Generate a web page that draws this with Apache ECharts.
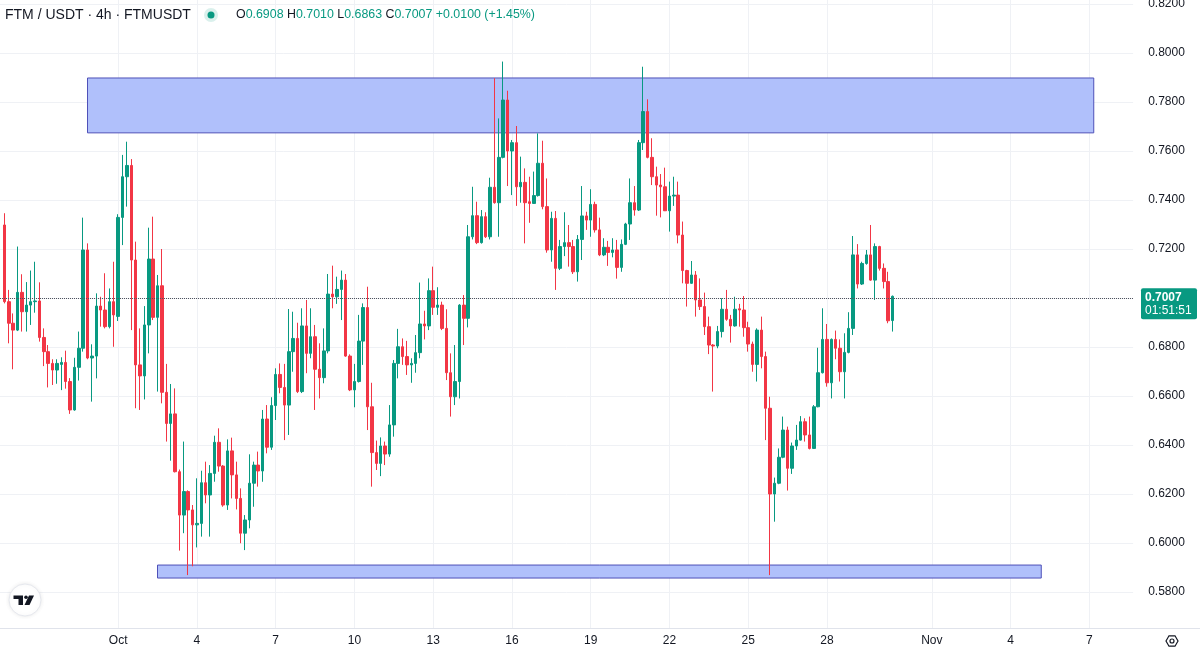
<!DOCTYPE html>
<html>
<head>
<meta charset="utf-8">
<script src="https://cdn.jsdelivr.net/npm/echarts@6/dist/echarts.min.js"></script>
<style>
html,body{margin:0;padding:0;background:#ffffff;}
#chart{width:1200px;height:647px;}
</style>
</head>
<body>
<div id="chart"></div>
<script>
// ---------------- data ----------------
const symbolTitle = 'FTM / USDT · 4h · FTMUSDT';
const firstCandleTime = Date.UTC(2024, 8, 26, 16); // first 4h candle
const barHours = 4;
const leadBlankBars = 1;
const totalBars = 260;
const countdownText = '01:51:51';

// [open, high, low, close]
const ohlc = [
[0.7298,0.7346,0.6978,0.6985],[0.6985,0.7033,0.6815,0.6897],[0.6897,0.6937,0.6709,0.6869],[0.6869,0.7210,0.6865,0.7023],
[0.7023,0.7097,0.6863,0.6944],[0.6944,0.7065,0.6863,0.6971],[0.6971,0.7112,0.6890,0.6985],[0.6985,0.7148,0.6940,0.6988],
[0.6988,0.7064,0.6822,0.6839],[0.6839,0.6876,0.6722,0.6781],[0.6781,0.6808,0.6635,0.6733],[0.6733,0.6750,0.6645,0.6706],
[0.6706,0.6750,0.6650,0.6733],[0.6729,0.6758,0.6624,0.6737],[0.6737,0.6785,0.6630,0.6659],[0.6659,0.6673,0.6527,0.6543],
[0.6543,0.6756,0.6540,0.6717],[0.6717,0.6863,0.6663,0.6795],[0.6795,0.7328,0.6781,0.7196],[0.7196,0.7223,0.6750,0.6755],
[0.6755,0.6811,0.6577,0.6763],[0.6763,0.7019,0.6672,0.6967],[0.6967,0.7005,0.6883,0.6951],[0.6951,0.7101,0.6876,0.6883],
[0.6883,0.7039,0.6876,0.6985],[0.6985,0.7148,0.6801,0.6931],[0.6925,0.7342,0.6906,0.7329],[0.7329,0.7584,0.7216,0.7495],
[0.7495,0.7638,0.7373,0.7541],[0.7541,0.7567,0.6869,0.7155],[0.7155,0.7230,0.6550,0.6727],[0.6727,0.6876,0.6543,0.6682],
[0.6682,0.6967,0.6586,0.6890],[0.6890,0.7287,0.6774,0.7159],[0.7159,0.7332,0.6910,0.6921],[0.6921,0.7094,0.6618,0.7050],
[0.7050,0.7200,0.6570,0.6615],[0.6615,0.6731,0.6414,0.6488],[0.6488,0.6649,0.6336,0.6527],[0.6527,0.6631,0.6288,0.6291],
[0.6291,0.6300,0.5969,0.6114],[0.6114,0.6414,0.6040,0.6210],[0.6210,0.6215,0.5869,0.6135],[0.6135,0.6155,0.5905,0.6074],
[0.6074,0.6264,0.5982,0.6080],[0.6080,0.6295,0.6026,0.6246],[0.6246,0.6332,0.6162,0.6196],[0.6196,0.6318,0.6026,0.6284],
[0.6284,0.6438,0.6250,0.6411],[0.6411,0.6468,0.6291,0.6314],[0.6314,0.6318,0.6148,0.6155],[0.6155,0.6423,0.6135,0.6376],
[0.6376,0.6430,0.6182,0.6278],[0.6278,0.6332,0.6137,0.6182],[0.6182,0.6223,0.5999,0.6040],[0.6040,0.6114,0.5971,0.6094],
[0.6094,0.6362,0.6060,0.6244],[0.6244,0.6332,0.6148,0.6318],[0.6318,0.6373,0.6230,0.6294],[0.6294,0.6543,0.6250,0.6506],
[0.6506,0.6563,0.6366,0.6391],[0.6391,0.6595,0.6380,0.6561],[0.6561,0.6713,0.6502,0.6688],[0.6688,0.6733,0.6611,0.6635],
[0.6635,0.6731,0.6420,0.6563],[0.6563,0.6955,0.6441,0.6781],[0.6781,0.6944,0.6699,0.6835],[0.6835,0.6899,0.6612,0.6618],
[0.6618,0.6958,0.6612,0.6886],[0.6886,0.6992,0.6693,0.6774],[0.6774,0.6958,0.6754,0.6842],[0.6842,0.6890,0.6543,0.6709],
[0.6709,0.6815,0.6590,0.6675],[0.6675,0.6876,0.6652,0.6784],[0.6784,0.7098,0.6774,0.7016],[0.7016,0.7132,0.6958,0.7005],
[0.7005,0.7087,0.6976,0.7035],[0.7035,0.7112,0.6910,0.7073],[0.7073,0.7098,0.6760,0.6763],[0.6763,0.6770,0.6620,0.6625],
[0.6625,0.6731,0.6554,0.6659],[0.6659,0.6931,0.6655,0.6824],[0.6824,0.6978,0.6727,0.6961],[0.6961,0.7046,0.6461,0.6556],
[0.6556,0.6654,0.6230,0.6369],[0.6369,0.6418,0.6298,0.6325],[0.6325,0.6431,0.6273,0.6396],[0.6396,0.6414,0.6318,0.6363],
[0.6363,0.6563,0.6352,0.6482],[0.6482,0.6747,0.6434,0.6733],[0.6733,0.6874,0.6672,0.6801],[0.6801,0.6835,0.6727,0.6761],
[0.6761,0.6825,0.6686,0.6727],[0.6727,0.6754,0.6654,0.6733],[0.6733,0.6849,0.6695,0.6777],[0.6777,0.7063,0.6754,0.6894],
[0.6894,0.6948,0.6831,0.6886],[0.6886,0.7080,0.6869,0.7030],[0.7030,0.7128,0.6931,0.6962],[0.6962,0.7044,0.6931,0.6971],
[0.6971,0.6985,0.6869,0.6876],[0.6876,0.6954,0.6665,0.6695],[0.6695,0.6774,0.6516,0.6597],[0.6597,0.6808,0.6563,0.6659],
[0.6659,0.6975,0.6590,0.6971],[0.6971,0.7012,0.6808,0.6917],[0.6917,0.7298,0.6880,0.7250],[0.7250,0.7454,0.7239,0.7336],
[0.7336,0.7393,0.7220,0.7226],[0.7226,0.7359,0.7222,0.7332],[0.7332,0.7350,0.7245,0.7250],[0.7250,0.7491,0.7239,0.7452],
[0.7452,0.7897,0.7385,0.7389],[0.7389,0.7733,0.7250,0.7574],[0.7574,0.7965,0.7570,0.7808],[0.7808,0.7846,0.7457,0.7600],
[0.7600,0.7645,0.7420,0.7634],[0.7634,0.7702,0.7376,0.7454],[0.7454,0.7577,0.7389,0.7472],[0.7472,0.7529,0.7223,0.7389],
[0.7393,0.7495,0.7307,0.7386],[0.7386,0.7516,0.7384,0.7418],[0.7418,0.7672,0.7414,0.7550],[0.7550,0.7642,0.7362,0.7373],
[0.7373,0.7488,0.7185,0.7196],[0.7196,0.7352,0.7148,0.7325],[0.7325,0.7355,0.7033,0.7121],[0.7121,0.7237,0.7114,0.7210],
[0.7210,0.7350,0.7171,0.7226],[0.7226,0.7298,0.7128,0.7210],[0.7210,0.7237,0.7098,0.7107],[0.7107,0.7257,0.7067,0.7239],
[0.7239,0.7457,0.7155,0.7335],[0.7335,0.7352,0.7278,0.7318],[0.7318,0.7444,0.7250,0.7382],[0.7382,0.7393,0.7267,0.7278],
[0.7278,0.7328,0.7171,0.7176],[0.7176,0.7244,0.7171,0.7207],[0.7207,0.7233,0.7131,0.7186],[0.7186,0.7244,0.7166,0.7196],
[0.7196,0.7237,0.7079,0.7125],[0.7125,0.7239,0.7107,0.7219],[0.7219,0.7307,0.7216,0.7302],[0.7302,0.7488,0.7237,0.7389],
[0.7389,0.7457,0.7336,0.7359],[0.7359,0.7645,0.7355,0.7634],[0.7634,0.7944,0.7604,0.7761],[0.7761,0.7811,0.7570,0.7574],
[0.7574,0.7652,0.7461,0.7495],[0.7495,0.7536,0.7336,0.7461],[0.7461,0.7506,0.7329,0.7454],[0.7454,0.7532,0.7355,0.7356],
[0.7356,0.7475,0.7271,0.7416],[0.7416,0.7495,0.7376,0.7420],[0.7420,0.7475,0.7223,0.7257],[0.7257,0.7312,0.7060,0.7112],
[0.7112,0.7115,0.6965,0.7060],[0.7060,0.7151,0.7058,0.7094],[0.7094,0.7110,0.6924,0.6992],[0.6992,0.7080,0.6951,0.6965],
[0.6965,0.7022,0.6849,0.6883],[0.6883,0.6924,0.6771,0.6808],[0.6808,0.6812,0.6618,0.6804],[0.6804,0.6886,0.6795,0.6863],
[0.6863,0.6999,0.6839,0.6954],[0.6954,0.7033,0.6907,0.6913],[0.6913,0.6931,0.6818,0.6886],[0.6886,0.7005,0.6883,0.6954],
[0.6956,0.6976,0.6883,0.6951],[0.6951,0.7008,0.6842,0.6879],[0.6879,0.6903,0.6781,0.6812],[0.6812,0.6822,0.6699,0.6729],
[0.6729,0.6876,0.6659,0.6869],[0.6869,0.6924,0.6713,0.6761],[0.6761,0.6781,0.6420,0.6550],[0.6550,0.6597,0.5869,0.6200],
[0.6200,0.6267,0.6087,0.6244],[0.6244,0.6386,0.6240,0.6350],[0.6350,0.6516,0.6346,0.6461],[0.6461,0.6475,0.6214,0.6305],
[0.6305,0.6410,0.6282,0.6396],[0.6396,0.6482,0.6380,0.6420],[0.6420,0.6518,0.6418,0.6495],[0.6495,0.6509,0.6414,0.6441],
[0.6441,0.6516,0.6382,0.6386],[0.6386,0.6563,0.6384,0.6556],[0.6556,0.6797,0.6554,0.6695],[0.6695,0.6958,0.6692,0.6831],
[0.6831,0.6894,0.6638,0.6654],[0.6654,0.6835,0.6590,0.6831],[0.6831,0.6867,0.6750,0.6795],[0.6795,0.6831,0.6659,0.6699],
[0.6699,0.6856,0.6590,0.6778],[0.6778,0.6942,0.6774,0.6876],[0.6876,0.7253,0.6849,0.7176],[0.7176,0.7220,0.7039,0.7057],
[0.7057,0.7148,0.7053,0.7141],[0.7141,0.7196,0.7136,0.7176],[0.7176,0.7298,0.7070,0.7073],[0.7073,0.7223,0.6992,0.7210],
[0.7210,0.7213,0.7112,0.7121],[0.7121,0.7141,0.7039,0.7067],[0.7067,0.7107,0.6897,0.6907],[0.6908,0.7010,0.6863,0.7007]
];

const yTicks = [0.58,0.60,0.62,0.64,0.66,0.68,0.70,0.72,0.74,0.76,0.78,0.80,0.82];
const yRange = [0.565306, 0.821633];
const xTickDates = ['2024-10-01','2024-10-04','2024-10-07','2024-10-10','2024-10-13','2024-10-16','2024-10-19',
                    '2024-10-22','2024-10-25','2024-10-28','2024-11-01','2024-11-04','2024-11-07'];
const xTickLabels = ['Oct','4','7','10','13','16','19','22','25','28','Nov','4','7'];

// zones: category index range and price range
const zoneStart = [20, 36];
const zoneEnd   = [250, 238];
const zoneHigh  = [0.7898, 0.5910];
const zoneLow   = [0.7674, 0.5857];

// ---------------- build ----------------
const FONT = '"Liberation Sans", Arial, sans-serif';
const UP = '#089981', DOWN = '#f23645', TXT = '#131722';

const categories = [];
for (let i = 0; i < totalBars; i++) {
  const t = firstCandleTime + (i - leadBlankBars) * barHours * 3600000;
  categories.push(new Date(t).toISOString().slice(0, 13));
}
const tickMap = new Map();
xTickDates.forEach((d, k) => tickMap.set(d + 'T00', xTickLabels[k]));

const candleData = categories.map((c, i) => {
  const k = i - leadBlankBars;
  if (k < 0 || k >= ohlc.length) return '-';
  const r = ohlc[k];
  return [r[0], r[3], r[2], r[1]]; // open, close, low, high
});

const last = ohlc[ohlc.length - 1];
const prevClose = ohlc[ohlc.length - 2][3];
const chg = last[3] - prevClose;
const pct = chg / prevClose * 100;

const chart = echarts.init(document.getElementById('chart'), null, {renderer: 'canvas'});

const option = {
  animation: false,
  backgroundColor: '#ffffff',
  grid: {left: 0, right: 66.875, top: 0, bottom: 19, containLabel: false, outerBoundsMode: 'none'},
  xAxis: {
    type: 'category',
    data: categories,
    boundaryGap: false,
    axisLine: {show: false},
    axisTick: {show: false},
    axisLabel: {
      interval: (idx, val) => tickMap.has(val),
      formatter: (val) => tickMap.get(val) || '',
      color: TXT, fontSize: 12, fontFamily: FONT, margin: 7
    },
    splitLine: {show: true, interval: (idx, val) => tickMap.has(val), lineStyle: {color: '#eff1f5', width: 1}}
  },
  yAxis: {
    type: 'value',
    min: yRange[0], max: yRange[1],
    axisLine: {show: false}, axisTick: {show: false},
    axisLabel: {show: false}, splitLine: {show: false}
  },
  series: [
    {
      type: 'line', name: 'grid', data: [], z: 0, silent: true,
      markLine: {
        z: 0, silent: true, symbol: ['none', 'none'], animation: false,
        lineStyle: {color: '#eff1f5', type: 'solid', width: 1},
        label: {
          position: 'end', distance: 15, color: TXT, fontSize: 12, fontFamily: FONT,
          formatter: (p) => Number(p.value).toFixed(4)
        },
        emphasis: {disabled: true},
        data: yTicks.map(v => ({yAxis: v}))
      }
    },
    {
      type: 'line', name: 'zones', data: [], z: 1, silent: true,
      markArea: {
        z: 1, silent: true,
        itemStyle: {color: '#b0c0fb', borderColor: '#4e50b8', borderWidth: 1},
        emphasis: {disabled: true},
        data: zoneStart.map((s, k) => [
          {xAxis: s, yAxis: zoneHigh[k]},
          {xAxis: zoneEnd[k], yAxis: zoneLow[k]}
        ])
      }
    },
    {
      type: 'candlestick', name: 'FTMUSDT', data: candleData, z: 2,
      barWidth: 3,
      itemStyle: {color: UP, color0: DOWN, borderColor: UP, borderColor0: DOWN, borderWidth: 1},
      emphasis: {disabled: true},
      markLine: {
        z: 5, silent: true, symbol: ['none', 'none'], animation: false,
        lineStyle: {color: '#50535e', type: 'dotted', width: 1},
        label: {show: false},
        emphasis: {disabled: true},
        data: [{yAxis: last[3]}]
      }
    }
  ]
};
chart.setOption(option);

const py = chart.convertToPixel({xAxisIndex: 0, yAxisIndex: 0}, [0, last[3]])[1];
const f4 = v => v.toFixed(4);
const ohlcRich = '{k|O}{v|' + f4(last[0]) + '} {k|H}{v|' + f4(last[1]) + '} {k|L}{v|' + f4(last[2]) +
  '} {k|C}{v|' + f4(last[3]) + '} {v|' + (chg >= 0 ? '+' : '') + f4(chg) + ' (' + (pct >= 0 ? '+' : '') + pct.toFixed(2) + '%)}';

chart.setOption({
  graphic: {elements: [
    {type: 'line', z: 50, silent: true, shape: {x1: 0, y1: 628.5, x2: 1200, y2: 628.5}, style: {stroke: '#e0e3eb', lineWidth: 1}},
    {type: 'text', z: 50, x: 5, y: 15, style: {text: symbolTitle, font: '14px ' + FONT, fill: TXT, textVerticalAlign: 'middle', verticalAlign: 'middle'}},
    {type: 'circle', z: 50, shape: {cx: 211, cy: 15, r: 7}, style: {fill: 'rgba(8,153,129,0.15)'}},
    {type: 'circle', z: 51, shape: {cx: 211, cy: 15, r: 3.5}, style: {fill: UP}},
    {type: 'text', z: 50, x: 236, y: 15, style: {
      text: ohlcRich, font: '12.4px ' + FONT, textVerticalAlign: 'middle', verticalAlign: 'middle',
      rich: {k: {fill: TXT, font: '12.4px ' + FONT}, v: {fill: UP, font: '12.4px ' + FONT}}
    }},
    // price tag
    {type: 'rect', z: 60, shape: {x: 1141, y: py - 8, width: 56, height: 31, r: 2}, style: {fill: UP}},
    {type: 'text', z: 61, x: 1145, y: py + 1.5, style: {text: f4(last[3]), font: 'bold 12px ' + FONT, fill: '#ffffff', textVerticalAlign: 'middle', verticalAlign: 'middle'}},
    {type: 'text', z: 61, x: 1145, y: py + 14.5, style: {text: countdownText, font: '12px ' + FONT, fill: '#ffffff', textVerticalAlign: 'middle', verticalAlign: 'middle'}},
    // logo
    {type: 'circle', z: 50, shape: {cx: 25, cy: 600, r: 16}, style: {fill: '#ffffff', stroke: '#e6e8ee', lineWidth: 1, shadowBlur: 4, shadowColor: 'rgba(0,0,0,0.08)'}},
    {type: 'polygon', z: 51, shape: {points: [[13.5,595.5],[23,595.5],[23,605],[18.5,605],[18.5,599],[13.5,599]]}, style: {fill: TXT}},
    {type: 'circle', z: 51, shape: {cx: 26, cy: 597.3, r: 1.8}, style: {fill: TXT}},
    {type: 'polygon', z: 51, shape: {points: [[29,595.5],[34,595.5],[29.5,605],[24.5,605]]}, style: {fill: TXT}},
    // settings icon
    {type: 'polygon', z: 50, shape: {points: [[1166,641],[1169,635.8],[1175,635.8],[1178,641],[1175,646.2],[1169,646.2]]}, style: {fill: 'none', stroke: TXT, lineWidth: 1.2}},
    {type: 'circle', z: 50, shape: {cx: 1172, cy: 641, r: 2}, style: {fill: 'none', stroke: TXT, lineWidth: 1.2}}
  ]}
});
</script>
</body>
</html>
